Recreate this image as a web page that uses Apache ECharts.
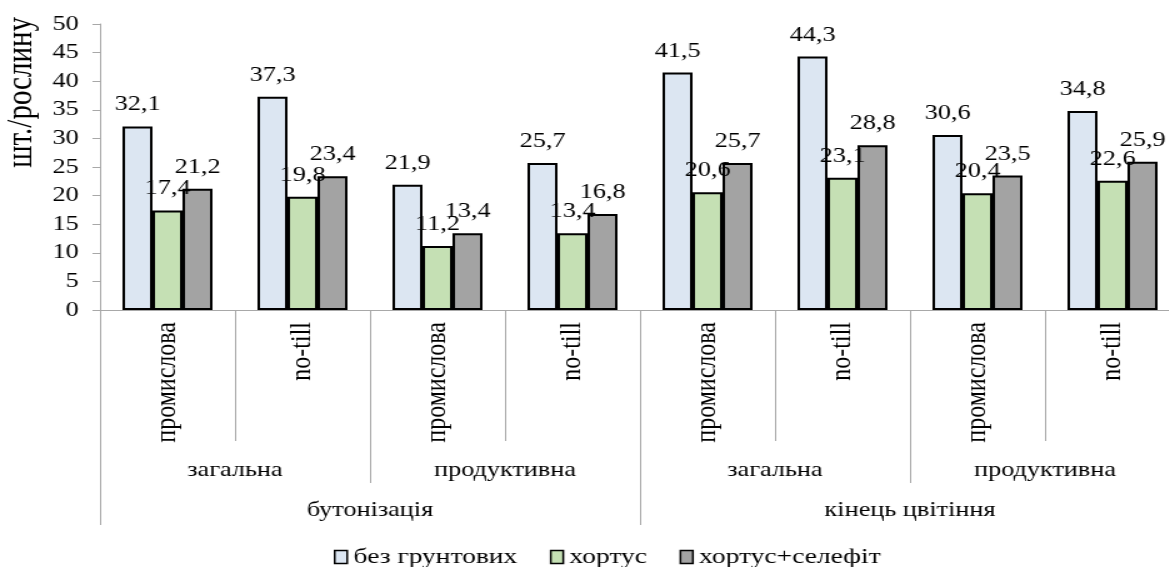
<!DOCTYPE html>
<html>
<head>
<meta charset="utf-8">
<script src="https://cdn.jsdelivr.net/npm/echarts@6/dist/echarts.min.js"></script>
<style>
html,body{margin:0;padding:0;background:#fff;overflow:hidden;width:1169px;height:567px;}
#chart{width:950px;height:567px;transform:scaleX(1.25);transform-origin:0 0;}
</style>
</head>
<body>
<div id="chart"></div>
<script>
// ---- data ----
const leafCategories = ['промислова','no-till','промислова','no-till','промислова','no-till','промислова','no-till'];
const midCategories = ['загальна','продуктивна','загальна','продуктивна'];
const topCategories = ['бутонізація','кінець цвітіння'];
const seriesNames = ['без грунтових','хортус','хортус+селефіт'];
const valuesNone = [32.1, 37.3, 21.9, 25.7, 41.5, 44.3, 30.6, 34.8];
const valuesHortus = [17.4, 19.8, 11.2, 13.4, 20.6, 23.1, 20.4, 22.6];
const valuesHortusSelefit = [21.2, 23.4, 13.4, 16.8, 25.7, 28.8, 23.5, 25.9];
const yTitle = 'шт./рослину';

const FONT = '"Liberation Serif", "Times New Roman", serif';
const colors = ['#dce6f2', '#c5e0b4', '#a3a3a3'];
const gridLine = '#a8a8a8';

const chart = echarts.init(document.getElementById('chart'), null, {renderer: 'canvas'});

function fmt(v){ return String(v.toFixed(1)).replace('.', ','); }

const dataSets = [valuesNone, valuesHortus, valuesHortusSelefit];
const series = dataSets.map((d, i) => ({
  name: seriesNames[i],
  type: 'bar',
  xAxisIndex: 0,
  data: d,
  barWidth: 24,
  barGap: '0%',
  itemStyle: {color: colors[i], borderColor: '#000', borderWidth: 2},
  label: {
    show: true, position: 'top', distance: 11,
    fontFamily: FONT, fontSize: 21, color: '#000',
    formatter: p => fmt(p.value)
  },
  emphasis: {disabled: true}
}));

chart.setOption({
  animation: false,
  backgroundColor: '#fff',
  grid: {left: 80, top: 24, width: 864, height: 286, containLabel: false},
  legend: {
    data: seriesNames,
    top: 541, left: 262,
    icon: 'rect', itemWidth: 10, itemHeight: 13, itemGap: 26,
    itemStyle: {borderColor: '#000', borderWidth: 1.5},
    textStyle: {fontFamily: FONT, fontSize: 22, color: '#000'}
  },
  graphic: [{
    type: 'text', left: 3, top: 17,
    style: {text: yTitle, font: '29px ' + FONT, fill: '#000'},
    rotation: Math.PI / 2, originX: 0, originY: 0
  }],
  xAxis: [
    {
      type: 'category', data: leafCategories, position: 'bottom',
      axisLine: {show: true, lineStyle: {color: gridLine, width: 1}},
      axisTick: {show: true, interval: 0, length: 131, lineStyle: {color: gridLine}},
      axisLabel: {interval: 0, rotate: 90, margin: 12, fontFamily: FONT, fontSize: 24, color: '#000'},
      splitLine: {show: false}
    },
    {
      type: 'category', data: midCategories, position: 'bottom', offset: 0,
      axisLine: {show: false},
      axisTick: {show: true, interval: 0, length: 173, lineStyle: {color: gridLine}},
      axisLabel: {interval: 0, margin: 150, fontFamily: FONT, fontSize: 21, color: '#000'},
      splitLine: {show: false}
    },
    {
      type: 'category', data: topCategories, position: 'bottom', offset: 0,
      axisLine: {show: false},
      axisTick: {show: true, interval: 0, length: 215, lineStyle: {color: gridLine}},
      axisLabel: {interval: 0, margin: 190, fontFamily: FONT, fontSize: 21, color: '#000'},
      splitLine: {show: false}
    }
  ],
  yAxis: {
    type: 'value', min: 0, max: 50, interval: 5,
    axisLine: {show: true, lineStyle: {color: gridLine}},
    axisTick: {show: true, length: 6, lineStyle: {color: gridLine}},
    axisLabel: {fontFamily: FONT, fontSize: 21, color: '#000', margin: 17},
    splitLine: {show: false}
  },
  series: series
});
</script>
</body>
</html>
